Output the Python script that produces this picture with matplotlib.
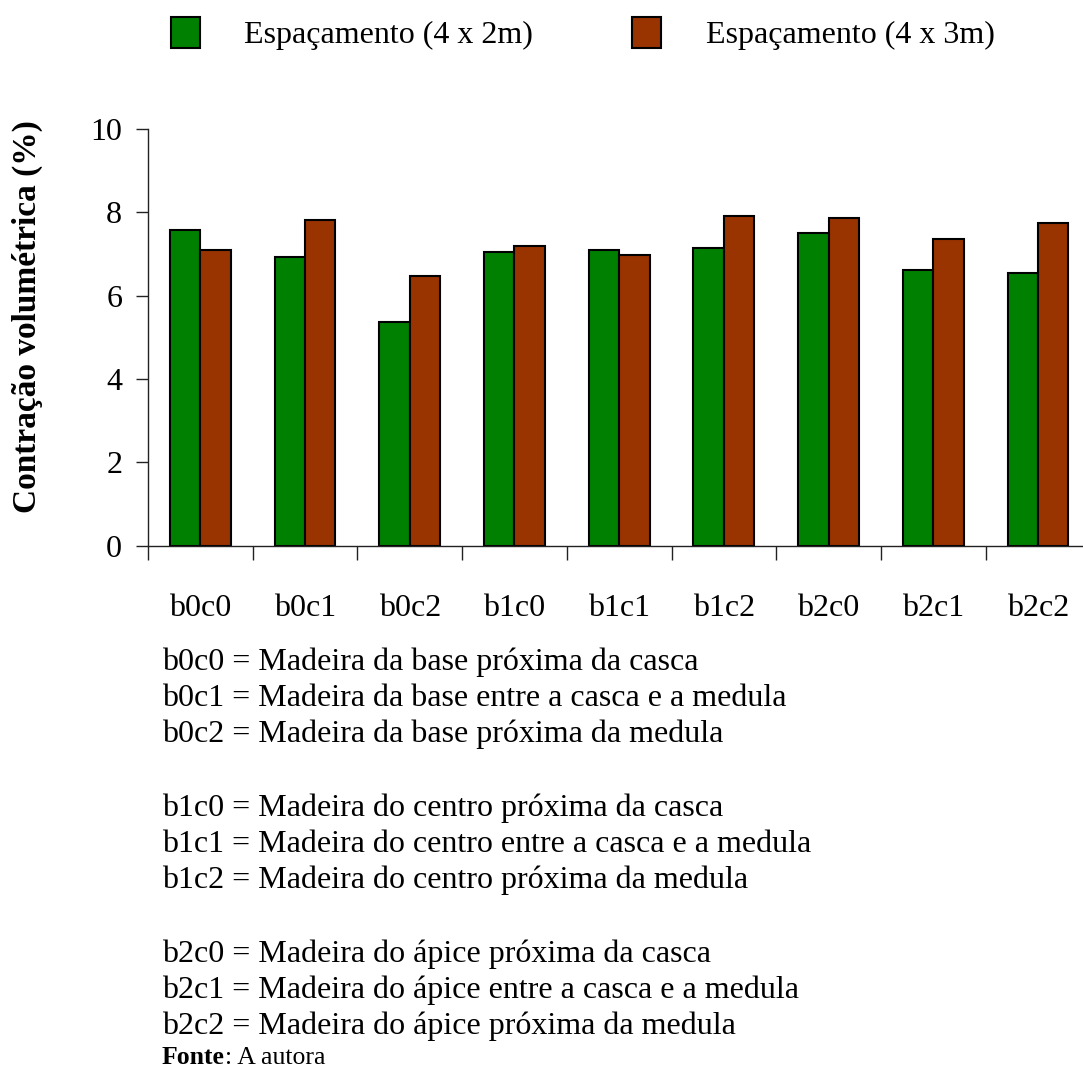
import numpy as np
import matplotlib
matplotlib.use("Agg")
import matplotlib.pyplot as plt

plt.rcParams['font.family'] = ['Liberation Serif', 'DejaVu Serif']

# data
categorias = ["b0c0", "b0c1", "b0c2", "b1c0", "b1c1", "b1c2", "b2c0", "b2c1", "b2c2"]
esp_4x2 = [7.56, 6.92, 5.37, 7.05, 7.09, 7.14, 7.51, 6.61, 6.53]
esp_4x3 = [7.10, 7.82, 6.46, 7.18, 6.96, 7.90, 7.86, 7.35, 7.73]
series_labels = ["Espaçamento (4 x 2m)", "Espaçamento (4 x 3m)"]
cores = ["#008000", "#993300"]
yticks = [0, 2, 4, 6, 8, 10]

legenda_grupos = [
    ["b0c0 = Madeira da base próxima da casca",
     "b0c1 = Madeira da base entre a casca e a medula",
     "b0c2 = Madeira da base próxima da medula"],
    ["b1c0 = Madeira do centro próxima da casca",
     "b1c1 = Madeira do centro entre a casca e a medula",
     "b1c2 = Madeira do centro próxima da medula"],
    ["b2c0 = Madeira do ápice próxima da casca",
     "b2c1 = Madeira do ápice entre a casca e a medula",
     "b2c2 = Madeira do ápice próxima da medula"],
]

W, H = 1083, 1069
fig = plt.figure(figsize=(W / 100, H / 100), dpi=100)
ax = fig.add_axes([148 / W, 1 - 545.7 / H, (W - 148) / W, 417 / H])

x = np.arange(len(categorias)) + 0.5
w = 0.29
b1 = ax.bar(x - w / 2, esp_4x2, w, color=cores[0], edgecolor='black', linewidth=1.5,
            label=series_labels[0])
b2 = ax.bar(x + w / 2, esp_4x3, w, color=cores[1], edgecolor='black', linewidth=1.5,
            label=series_labels[1])

ax.set_xlim(0, (W - 148) / 104.7)
ax.set_ylim(0, 10)
ax.set_yticks(yticks)
ax.set_yticklabels([str(t) for t in yticks], fontsize=23)
ax.tick_params(axis='y', direction='out', length=8.6, width=1, pad=10, color='#222222')

ax.set_xticks(np.arange(len(categorias)))
ax.set_xticklabels([])
ax.set_xticks(x, minor=True)
ax.set_xticklabels(categorias, minor=True, fontsize=23)
ax.tick_params(axis='x', which='major', direction='out', length=10, width=1, color='#222222')
ax.tick_params(axis='x', which='minor', length=0, pad=35)

for s in ['top', 'right']:
    ax.spines[s].set_visible(False)
for s in ['left', 'bottom']:
    ax.spines[s].set_linewidth(1)
    ax.spines[s].set_color('#222222')

ax.set_ylabel("Contração volumétrica (%)", fontsize=24, fontweight='bold')
ax.yaxis.set_label_coords(-0.112, 0.55)

fig.legend(handles=[b1, b2], labels=series_labels, loc='upper left',
           bbox_to_anchor=(171 / W, 1 - 17 / H), ncol=2, frameon=False,
           fontsize=23, handlelength=0.9, handleheight=1.1, handletextpad=1.4,
           columnspacing=3.1, borderpad=0, borderaxespad=0)

# texto explicativo abaixo do grafico
y = 662
for grupo in legenda_grupos:
    for linha in grupo:
        fig.text(162 / W, 1 - y / H, linha, fontsize=23, va='center', ha='left')
        y += 36
    y += 38
y = y - 38 - 4
t = fig.text(162 / W, 1 - y / H, "Fonte", fontsize=18.5, fontweight='bold',
             va='center', ha='left')
fig.canvas.draw()
bb = t.get_window_extent()
fig.text(bb.x1 / W, 1 - y / H, ": A autora", fontsize=18.5, va='center', ha='left')

plt.savefig('out.png', dpi=100)
